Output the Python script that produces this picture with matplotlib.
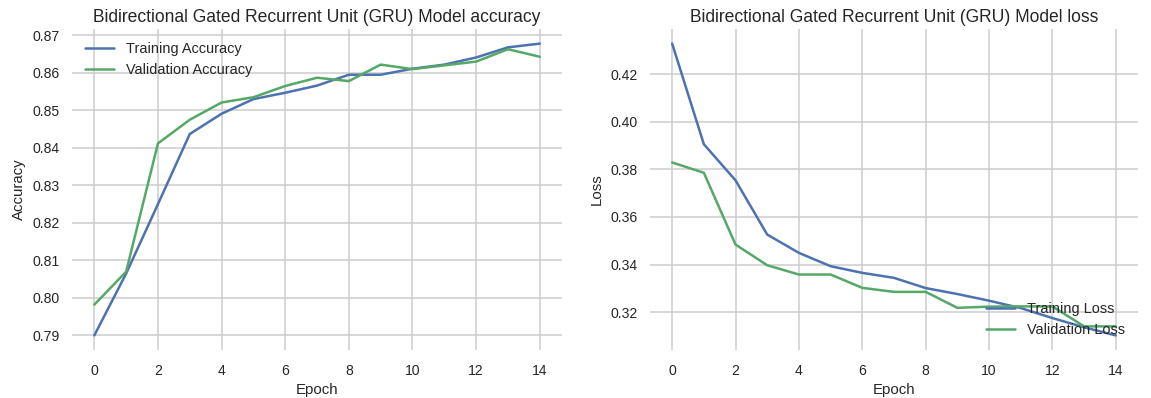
import matplotlib
matplotlib.use('Agg')
import matplotlib.pyplot as plt
import seaborn as sns

sns.set_style('whitegrid')
plt.rcParams['font.family'] = ['Liberation Sans', 'DejaVu Sans']

# training history of the bidirectional GRU
epochs = list(range(15))
train_acc = [0.7900, 0.8065, 0.8250, 0.8437, 0.8491, 0.8530, 0.8547, 0.8566, 0.8595, 0.8595,
             0.8611, 0.8622, 0.8641, 0.8668, 0.8678]
val_acc = [0.7982, 0.8070, 0.8412, 0.8475, 0.8521, 0.8535, 0.8565, 0.8587, 0.8578, 0.8622,
           0.8610, 0.8620, 0.8630, 0.8663, 0.8643]
train_loss = [0.4329, 0.3906, 0.3754, 0.3526, 0.3449, 0.3393, 0.3365, 0.3344, 0.3301, 0.3276,
              0.3248, 0.3217, 0.3175, 0.3136, 0.3102]
val_loss = [0.3829, 0.3786, 0.3484, 0.3397, 0.3358, 0.3358, 0.3302, 0.3285, 0.3285, 0.3218,
            0.3223, 0.3224, 0.3224, 0.3140, 0.3140]

blue = '#4C72B0'
green = '#55A868'
text_col = '#262626'

fig = plt.figure(figsize=(1151 / 72, 398 / 72), dpi=72)
ax1 = fig.add_axes([0.0626, 0.1206, 0.4257, 0.8065])
ax2 = fig.add_axes([0.5647, 0.1206, 0.424, 0.8065])

ax1.plot(epochs, train_acc, color=blue, lw=2.5, label='Training Accuracy')
ax1.plot(epochs, val_acc, color=green, lw=2.5, label='Validation Accuracy')
ax1.set_title('Bidirectional Gated Recurrent Unit (GRU) Model accuracy', fontsize=17.5, color=text_col, pad=7)
ax1.set_xlabel('Epoch', fontsize=15, color=text_col, labelpad=5)
ax1.set_ylabel('Accuracy', fontsize=15, color=text_col, labelpad=6)
ax1.legend(loc='upper left', fontsize=14.5, frameon=False)

ax2.plot(epochs, train_loss, color=blue, lw=2.5, label='Training Loss')
ax2.plot(epochs, val_loss, color=green, lw=2.5, label='Validation Loss')
ax2.set_title('Bidirectional Gated Recurrent Unit (GRU) Model loss', fontsize=17.5, color=text_col, pad=7)
ax2.set_xlabel('Epoch', fontsize=15, color=text_col, labelpad=5)
ax2.set_ylabel('Loss', fontsize=15, color=text_col, labelpad=6)
ax2.legend(loc='lower right', fontsize=14.5, frameon=False)

for ax in (ax1, ax2):
    ax.set_xticks(range(0, 15, 2))
    ax.tick_params(labelsize=14, colors=text_col)
    ax.tick_params(axis='x', pad=10)
    ax.tick_params(axis='y', pad=9)
    ax.grid(True, color='#cccccc', lw=1.5)
    for s in ax.spines.values():
        s.set_visible(False)

fig.savefig('out.png', dpi=72, facecolor='white')
